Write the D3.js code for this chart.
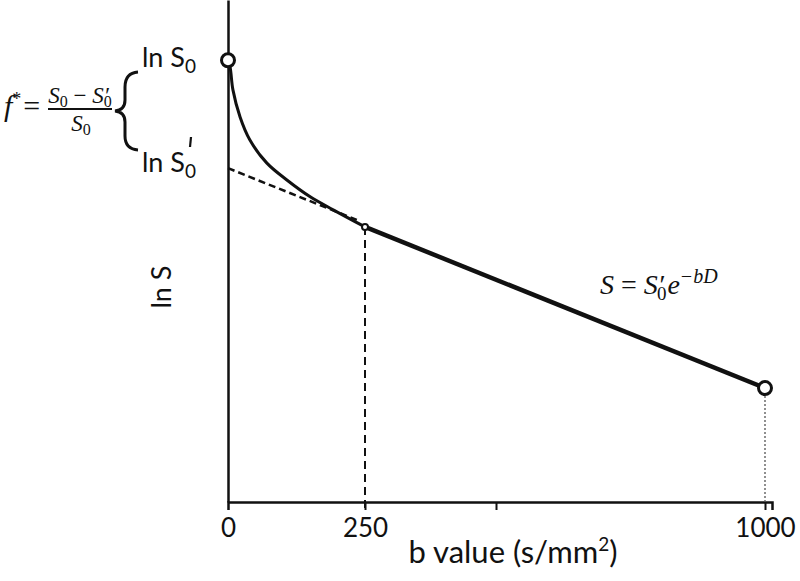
<!DOCTYPE html>
<html>
<head>
<meta charset="utf-8">
<script src="https://cdn.jsdelivr.net/npm/d3@7"></script>
<style>
  body { margin: 0; background: #fff; }
  svg { display: block; }
  .lbl { font-family: Lato, "Open Sans", sans-serif; fill: #111; }
  .math { font-family: "Liberation Serif", serif; font-style: italic; fill: #111; }
</style>
</head>
<body>
<div class="chart"></div>
<script>
// b values and ln S (arbitrary ln S units)
var curveB = [0, 4, 9, 22, 40, 71, 108, 150, 192, 250];
var curveLnS = [8.80, 8.65, 8.21, 7.67, 7.21, 6.75, 6.41, 6.08, 5.82, 5.48];

// mono-exponential part (b >= 250)
var lineB = [250, 1000];
var lineLnS = [5.48, 2.27];

// dashed extrapolation back to b = 0 (intercept ln S0')
var extB = [0, 235];
var extLnS = [6.65, 5.62];

// tick labels
var tickVals = [0, 250, 500, 1000];
var tickText = ["0", "250", "", "1000"];

var svgWidth = 800, svgHeight = 581;

var svg = d3.select(".chart")
    .append("svg")
    .attr("width", svgWidth)
    .attr("height", svgHeight);

// the drawing is hand made, so the b axis is not quite linear
var xScale = d3.scaleLinear()
    .domain([0, 250, 500, 1000, 1013])
    .range([228, 365, 496, 765, 772]);

var yScale = d3.scaleLinear()
    .domain([0, 10])
    .range([502, 0]);

// axes
var xAxis = d3.axisBottom(xScale)
    .tickValues(tickVals)
    .tickFormat((d, i) => tickText[i])
    .tickSizeOuter(0)
    .tickSize(8)
    .tickPadding(9);

var xg = svg.append("g")
    .attr("transform", `translate(0, ${yScale(0)})`)
    .call(xAxis);
xg.select(".domain").attr("stroke", "#111").attr("stroke-width", 2.5);
xg.selectAll(".tick line").attr("stroke", "#111").attr("stroke-width", 2)
    .filter(d => d === 0).remove();
xg.selectAll(".tick text")
    .attr("class", "lbl")
    .style("font-size", "26px")
    .attr("fill", "#111");

var yAxis = d3.axisLeft(yScale).tickValues([]).tickSizeOuter(0);
var yg = svg.append("g")
    .attr("transform", `translate(${xScale(0)}, 0)`)
    .call(yAxis);
yg.select(".domain").attr("stroke", "#111").attr("stroke-width", 2.5);

// vertical guide lines
svg.append("line")
    .attr("x1", xScale(250)).attr("x2", xScale(250))
    .attr("y1", yScale(lineLnS[0])).attr("y2", yScale(0) + 8)
    .attr("stroke", "#111").attr("stroke-width", 2)
    .attr("stroke-dasharray", "8,5");

svg.append("line")
    .attr("x1", xScale(1000)).attr("x2", xScale(1000))
    .attr("y1", yScale(lineLnS[1])).attr("y2", yScale(0))
    .attr("stroke", "#555").attr("stroke-width", 1.3)
    .attr("stroke-dasharray", "2,2");

// dashed extrapolation
var line = d3.line()
    .x(d => xScale(d[0]))
    .y(d => yScale(d[1]));

svg.append("path")
    .datum(extB.map((b, i) => [b, extLnS[i]]))
    .attr("d", line)
    .attr("fill", "none")
    .attr("stroke", "#111")
    .attr("stroke-width", 2.5)
    .attr("stroke-dasharray", "7,4");

// bi-exponential curve
var curve = d3.line()
    .x(d => xScale(d[0]))
    .y(d => yScale(d[1]))
    .curve(d3.curveCatmullRom.alpha(0.5));

svg.append("path")
    .datum(curveB.map((b, i) => [b, curveLnS[i]]))
    .attr("d", curve)
    .attr("fill", "none")
    .attr("stroke", "#111")
    .attr("stroke-width", 3);

svg.append("path")
    .datum(lineB.map((b, i) => [b, lineLnS[i]]))
    .attr("d", line)
    .attr("fill", "none")
    .attr("stroke", "#111")
    .attr("stroke-width", 4.5);

// markers
var marks = [[curveB[0], curveLnS[0], 6.5], [lineB[0], lineLnS[0], 3], [lineB[1], lineLnS[1], 6.5]];
svg.selectAll(".mark")
    .data(marks)
    .enter()
    .append("circle")
    .attr("class", "mark")
    .attr("cx", d => xScale(d[0]))
    .attr("cy", d => yScale(d[1]))
    .attr("r", d => d[2])
    .attr("fill", "#fff")
    .attr("stroke", "#111")
    .attr("stroke-width", d => d[2] > 4 ? 3 : 2);

// axis titles
var xt = svg.append("text")
    .attr("class", "lbl")
    .attr("x", 513).attr("y", 563)
    .attr("text-anchor", "middle")
    .style("font-size", "31px");
xt.append("tspan").text("b value (s/mm");
xt.append("tspan").attr("dy", -12).style("font-size", "19px").text("2");
xt.append("tspan").attr("dy", 12).text(")");

svg.append("text")
    .attr("class", "lbl")
    .attr("transform", "translate(171, 287) rotate(-90)")
    .attr("text-anchor", "middle")
    .style("font-size", "27px")
    .text("ln S");

// ln S0 and ln S0' labels
var t1 = svg.append("text").attr("class", "lbl")
    .attr("x", 142).attr("y", 67).style("font-size", "27px");
t1.append("tspan").text("ln S");
t1.append("tspan").attr("dy", 6).style("font-size", "19px").text("0");

var t2 = svg.append("text").attr("class", "lbl")
    .attr("x", 142).attr("y", 172).style("font-size", "27px");
t2.append("tspan").text("ln S");
t2.append("tspan").attr("dy", 6).style("font-size", "19px").text("0");

svg.append("line")
    .attr("x1", 191).attr("x2", 190)
    .attr("y1", 137).attr("y2", 147)
    .attr("stroke", "#111").attr("stroke-width", 2.2);

// curly brace
svg.append("path")
    .attr("d", "M138,72 Q125,73 125,87 L125,100 Q125,110 115,111 Q125,112 125,122 L125,136 Q125,149 138,150")
    .attr("fill", "none")
    .attr("stroke", "#111")
    .attr("stroke-width", 3);

// f* = (S0 - S0')/S0
var f = svg.append("text").attr("class", "math")
    .attr("x", 4).attr("y", 116).style("font-size", "30px");
f.append("tspan").text("f");
f.append("tspan").attr("dy", -11).style("font-size", "18px").style("font-style", "normal").text("*");
f.append("tspan").attr("dy", 11).attr("dx", 2).style("font-style", "normal").text("=");

svg.append("line")
    .attr("x1", 48).attr("x2", 112)
    .attr("y1", 109).attr("y2", 109)
    .attr("stroke", "#111").attr("stroke-width", 1.8);

var num = svg.append("text").attr("class", "math")
    .attr("x", 80).attr("y", 103).attr("text-anchor", "middle").style("font-size", "23px");
num.append("tspan").text("S");
num.append("tspan").attr("dy", 4).style("font-size", "16px").style("font-style", "normal").text("0");
num.append("tspan").attr("dy", -4).style("font-style", "normal").text(" − ");
num.append("tspan").text("S′");
num.append("tspan").attr("dy", 4).attr("dx", -5).style("font-size", "16px").style("font-style", "normal").text("0");

var den = svg.append("text").attr("class", "math")
    .attr("x", 81).attr("y", 131).attr("text-anchor", "middle").style("font-size", "23px");
den.append("tspan").text("S");
den.append("tspan").attr("dy", 4).style("font-size", "16px").style("font-style", "normal").text("0");

// S = S0' e^{-bD}
var eq = svg.append("text").attr("class", "math")
    .attr("x", 600).attr("y", 294).style("font-size", "28px");
eq.append("tspan").text("S ");
eq.append("tspan").style("font-style", "normal").text("= ");
eq.append("tspan").text("S′");
eq.append("tspan").attr("dy", 6).attr("dx", -7).style("font-size", "19px").style("font-style", "normal").text("0");
eq.append("tspan").attr("dy", -6).attr("dx", 1).text("e");
eq.append("tspan").attr("dy", -11).style("font-size", "20px").text("−bD");
</script>
</body>
</html>
